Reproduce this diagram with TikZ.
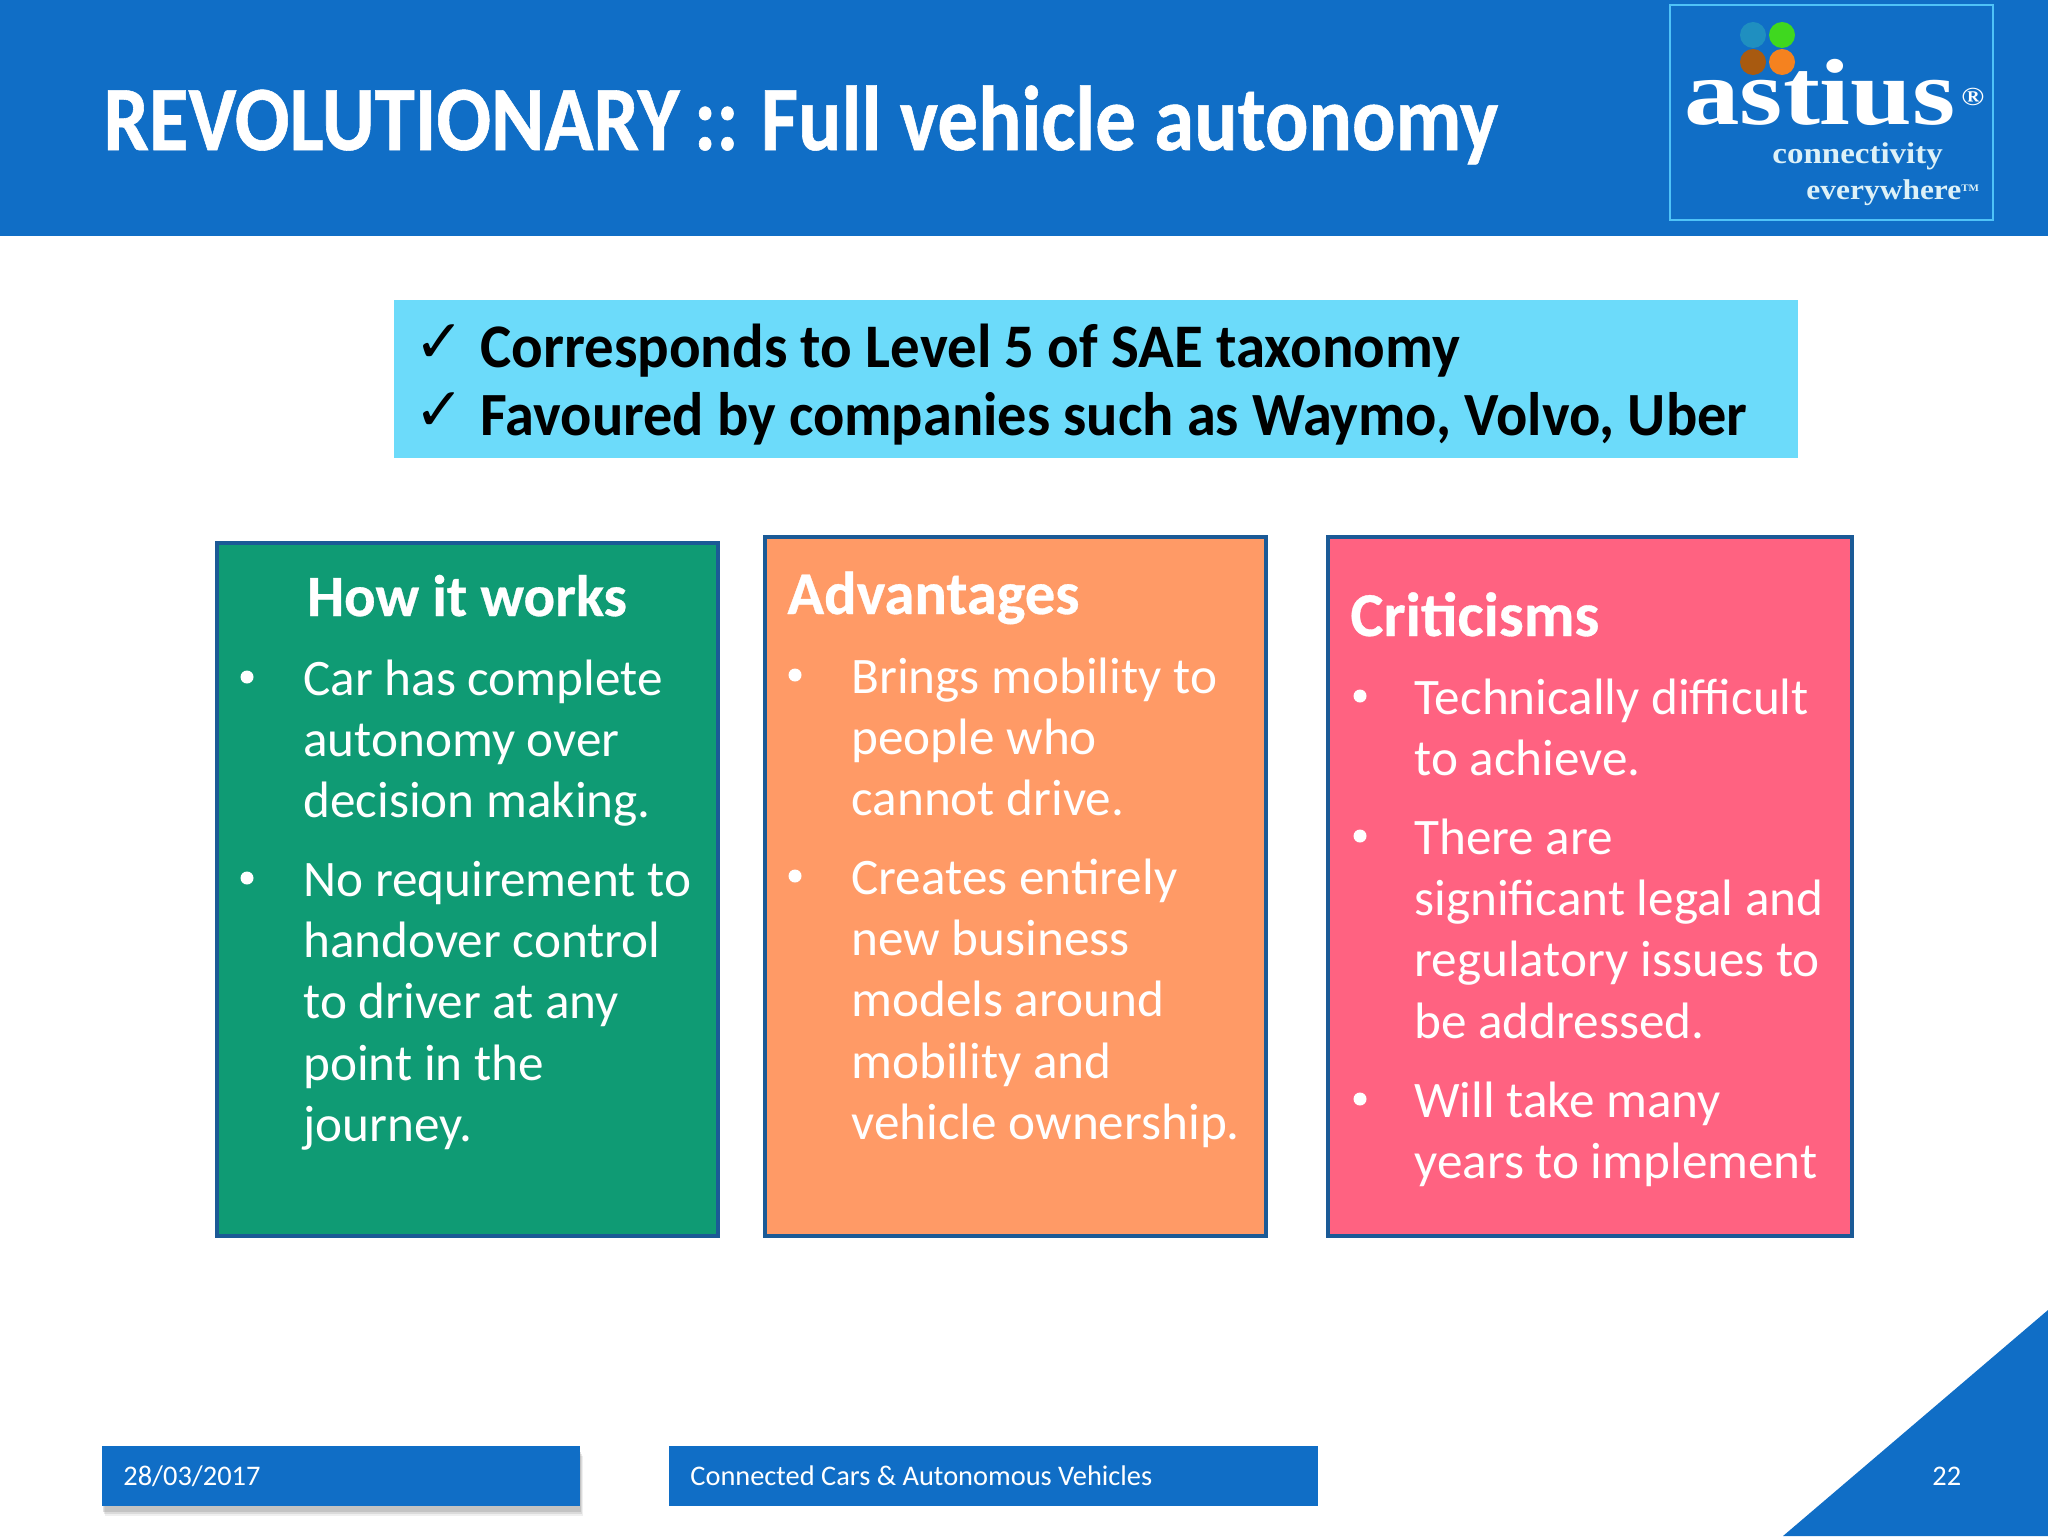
\documentclass[tikz,border=0pt]{standalone}
\usepackage{fontspec}
\setmainfont{Carlito}
\newfontfamily\narrowfont[FakeStretch=0.88,FakeBold=0.6]{Carlito Bold}
\newfontfamily\skyfont[FakeStretch=0.95]{Carlito Bold}
\newfontfamily\headfont[FakeBold=0.5]{Carlito Bold}
\newfontfamily\logofont[FakeStretch=1.18]{Liberation Serif Bold}
\newfontfamily\tagfont[FakeStretch=1.1]{Liberation Serif Bold}
\newfontfamily\tickfont{DejaVu Sans}
\usetikzlibrary{positioning,shadows}

\definecolor{headblue}{HTML}{106EC6}
\definecolor{logoline}{HTML}{4FC3F7}
\definecolor{skyfill}{HTML}{6CDBFA}
\definecolor{greenfill}{HTML}{0F9B74}
\definecolor{orangefill}{HTML}{FF9A66}
\definecolor{pinkfill}{HTML}{FF6281}
\definecolor{panelline}{HTML}{1B5A96}
\definecolor{dotteal}{HTML}{1F8FC0}
\definecolor{dotgreen}{HTML}{3FD81F}
\definecolor{dotbrown}{HTML}{A85A10}
\definecolor{dotorange}{HTML}{F5821F}
\definecolor{tagtext}{HTML}{DDF1F7}

\begin{document}
\begin{tikzpicture}[%
        x=0.5pt,
        y=-0.5pt,
        panel/.style={%
          draw=panelline,
          line width=2pt,
          inner sep=0pt
        },
        heading/.style={%
          text=white,
          inner sep=0pt
        },
        bodytext/.style={%
          anchor=base west,
          text=white,
          inner sep=0pt,
          font=\fontsize{25.6}{30.7}\selectfont
        },
        dotmark/.style={%
          circle,
          fill=white,
          inner sep=0pt,
          minimum size=6.5pt
        },
        footbox/.style={%
          fill=headblue,
          inner sep=0pt,
          minimum height=30pt
        },
        foottext/.style={%
          anchor=base west,
          text=white,
          inner sep=0pt,
          font=\fontsize{14.2}{18}\selectfont
        },
        skytext/.style={%
          anchor=base west,
          inner sep=0pt
        },
        ticktext/.style={%
          anchor=base west,
          inner sep=0pt,
          font=\fontsize{30}{34}\tickfont
        },
        logodot/.style={%
          circle,
          inner sep=0pt,
          minimum size=13pt
        },
        tagline/.style={%
          anchor=base west,
          text=tagtext,
          inner sep=0pt
        }
      ]
      \useasboundingbox (0,0) rectangle (2048,1536);
      \fill[white] (0,0) rectangle (2048,1536);
      \fill[headblue] (0,0) rectangle (2048,236);
      \fill[headblue] (1783,1536) -- (2048,1310) -- (2048,1536) -- cycle;

      % title and logo
      \node[anchor=base west,text=white,inner sep=0pt,font=\fontsize{46}{52}\narrowfont] (title) at (103,150) {REVOLUTIONARY\hspace{-2pt} ::\hspace{-1pt} Full vehicle autonomy};
      \node[draw=logoline,line width=1.2pt,minimum width=161.5pt,minimum height=107.5pt,inner sep=0pt] (logo) at (1831.5,112.5) {};
      \node[logodot,fill=dotteal] (dota) at (1753,35) {};
      \node[logodot,fill=dotgreen] (dotb) at (1782,35) {};
      \node[logodot,fill=dotbrown] (dotc) at (1753,62) {};
      \node[logodot,fill=dotorange] (dotd) at (1782,62) {};
      \node[anchor=base west,text=white,inner sep=0pt,font=\fontsize{47}{48}\logofont] (astius) at (1684,125) {astius};
      \node[anchor=base west,text=white,inner sep=0pt,font=\fontsize{13}{14}\logofont] (regmark) at (1961,105) {®};
      \node[tagline,font=\fontsize{15}{18}\tagfont] (conn) at (1772,163) {connectivity};
      \node[tagline,font=\fontsize{14.3}{18}\tagfont] (every) at (1806,199) {everywhere\raisebox{4pt}{\fontsize{5}{6}\selectfont TM}};

      % sky box
      \node[fill=skyfill,minimum width=702pt,minimum height=79pt,inner sep=0pt] (sky) at (1096,379) {};
      \node[ticktext] (tick1) at (414,362) {✓};
      \node[ticktext] (tick2) at (414,430) {✓};
      \node[skytext,font=\fontsize{31}{36}\skyfont] (sky1) at (480,367) {Corresponds to Level 5 of SAE taxonomy};
      \node[skytext,font=\fontsize{30.7}{36}\skyfont] (sky2) at (480,435) {Favoured by companies such as Waymo, Volvo, Uber};

      % panels
      \node[panel,fill=greenfill,minimum width=250.5pt,minimum height=346.5pt] (works) at (467,889) {};
      \node[panel,fill=orangefill,minimum width=250.5pt,minimum height=349.5pt] (adv) at (1015,886) {};
      \node[panel,fill=pinkfill,minimum width=262pt,minimum height=349.5pt] (crit) at (1589.5,886) {};

      \node[heading,anchor=base,font=\fontsize{29.3}{34}\headfont] (workshead) at (467,616) {How it works};
      \node[heading,anchor=base west,font=\fontsize{30.3}{34}\headfont] (advhead) at (787,614) {Advantages};
      \node[heading,anchor=base west,font=\fontsize{31.2}{34}\headfont] (crithead) at (1350,636) {Criticisms};

      \node[bodytext] (w1) at (303,695) {\begin{tabular}[t]{@{}l@{}}Car has complete\\autonomy over\\decision making.\end{tabular}};
      \node[bodytext] (w2) at (303,896) {\begin{tabular}[t]{@{}l@{}}No requirement to\\handover control\\to driver at any\\point in the\\journey.\end{tabular}};
      \node[bodytext] (a1) at (851,693) {\begin{tabular}[t]{@{}l@{}}Brings mobility to\\people who\\cannot drive.\end{tabular}};
      \node[bodytext] (a2) at (851,894) {\begin{tabular}[t]{@{}l@{}}Creates entirely\\new business\\models around\\mobility and\\vehicle ownership.\end{tabular}};
      \node[bodytext] (c1) at (1414,714) {\begin{tabular}[t]{@{}l@{}}Technically difficult\\to achieve.\end{tabular}};
      \node[bodytext] (c2) at (1414,854) {\begin{tabular}[t]{@{}l@{}}There are\\significant legal and\\regulatory issues to\\be addressed.\end{tabular}};
      \node[bodytext] (c3) at (1414,1117) {\begin{tabular}[t]{@{}l@{}}Will take many\\years to implement\end{tabular}};

      \node[dotmark] (dw1) at ([xshift=-28pt,yshift=9pt]w1.base west) {};
      \node[dotmark] (dw2) at ([xshift=-28pt,yshift=9pt]w2.base west) {};
      \node[dotmark] (da1) at ([xshift=-28pt,yshift=9pt]a1.base west) {};
      \node[dotmark] (da2) at ([xshift=-28pt,yshift=9pt]a2.base west) {};
      \node[dotmark] (dc1) at ([xshift=-27pt,yshift=9pt]c1.base west) {};
      \node[dotmark] (dc2) at ([xshift=-27pt,yshift=9pt]c2.base west) {};
      \node[dotmark] (dc3) at ([xshift=-27pt,yshift=9pt]c3.base west) {};

      % footer
      \node[footbox,minimum width=239pt,
        drop shadow={shadow xshift=1.5pt,shadow yshift=-5pt,opacity=0.12},
        drop shadow={shadow xshift=1pt,shadow yshift=-4pt,opacity=0.18},
        drop shadow={shadow xshift=0.5pt,shadow yshift=-3pt,opacity=0.25}] (datebox) at (341,1476) {};
      \node[footbox,minimum width=324.5pt] (namebox) at (993.5,1476) {};
      \node[foottext] (date) at (123,1485) {28/03/2017};
      \node[foottext] (name) at (690,1485) {Connected Cars \& Autonomous Vehicles};
      \node[foottext] (page) at (1932,1485) {22};
  \end{tikzpicture}
\end{document}
